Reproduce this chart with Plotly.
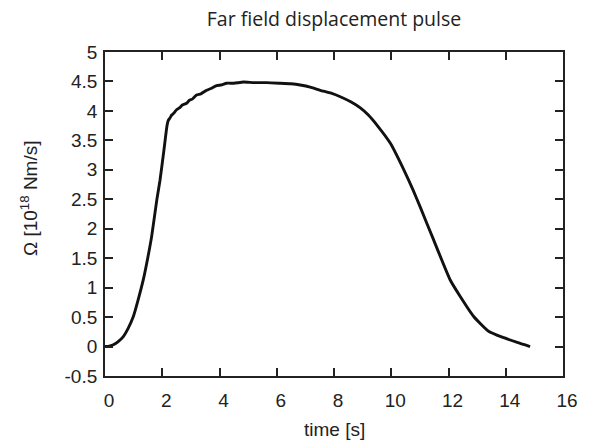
import plotly.graph_objects as go

time_s = [0.0, 0.15, 0.29, 0.45, 0.64, 0.80, 0.99, 1.15, 1.34, 1.50, 1.63, 1.81, 1.92, 2.05, 2.12, 2.17, 2.21, 2.27, 2.33,
          2.40, 2.50, 2.60, 2.70, 2.85, 2.95, 3.05, 3.20, 3.35, 3.55, 3.70, 3.90, 4.05, 4.25, 4.50, 4.84, 5.20,
          5.65, 6.12, 6.50, 6.82, 7.20, 7.52, 7.90, 8.22, 8.60, 8.92, 9.20, 9.50, 9.97, 10.44, 10.76, 11.01,
          11.48, 12.06, 12.41, 12.88, 13.40, 13.93, 14.40, 14.85]
omega = [0.0, 0.005, 0.03, 0.08, 0.17, 0.30, 0.51, 0.78, 1.14, 1.52, 1.87, 2.49, 2.82, 3.30, 3.58, 3.76, 3.84, 3.88, 3.93,
         3.96, 4.02, 4.05, 4.10, 4.13, 4.18, 4.20, 4.27, 4.29, 4.35, 4.38, 4.43, 4.44, 4.47, 4.47, 4.49, 4.48,
         4.48, 4.47, 4.46, 4.44, 4.40, 4.35, 4.30, 4.24, 4.15, 4.05, 3.93, 3.76, 3.45, 3.00, 2.66, 2.37,
         1.81, 1.13, 0.85, 0.51, 0.26, 0.15, 0.07, 0.0]

x_ticks = [0, 2, 4, 6, 8, 10, 12, 14, 16]
y_ticks = [-0.5, 0, 0.5, 1, 1.5, 2, 2.5, 3, 3.5, 4, 4.5, 5]

fig = go.Figure()
fig.add_trace(go.Scatter(x=time_s, y=omega, mode="lines",
                         line=dict(color="#111111", width=2.9, shape="spline", smoothing=0.5),
                         showlegend=False))

axis_font = dict(family="Liberation Sans, Arial, sans-serif", size=19, color="#222222")
fig.update_layout(
    width=594, height=445,
    margin=dict(l=105, r=31, t=52, b=69),
    paper_bgcolor="white", plot_bgcolor="white",
    title=dict(text="Far field displacement pulse", x=0.5623, xanchor="center",
               y=0.957, yanchor="middle",
               font=dict(family="Open Sans, Noto Sans, sans-serif", size=19.5, color="#222222")),
    xaxis=dict(range=[0, 16], tickvals=x_ticks, ticktext=[str(v) for v in x_ticks],
               ticks="inside", ticklen=8, tickwidth=1.5, tickcolor="#222222",
               showline=True, linecolor="#222222", linewidth=1.8, mirror="ticks",
               showgrid=False, zeroline=False, tickfont=axis_font, ticklabelshift=4,
               ticklabelstandoff=6),
    yaxis=dict(range=[-0.5, 5], tickvals=y_ticks, ticktext=[("%g" % v) for v in y_ticks],
               ticks="inside", ticklen=8, tickwidth=1.5, tickcolor="#222222",
               showline=True, linecolor="#222222", linewidth=1.8, mirror="ticks",
               showgrid=False, zeroline=False, tickfont=axis_font, ticklabelstandoff=2),
    annotations=[
        dict(text="time [s]", xref="paper", yref="paper", x=0.5, y=-0.1665,
             xanchor="center", yanchor="middle", showarrow=False, font=axis_font),
        dict(text="Ω [10<sup>18</sup> Nm/s]", xref="paper", yref="paper", x=-0.166, y=0.549,
             xanchor="center", yanchor="middle", textangle=-90, showarrow=False, font=axis_font),
    ],
)
fig.write_html("out.html")
